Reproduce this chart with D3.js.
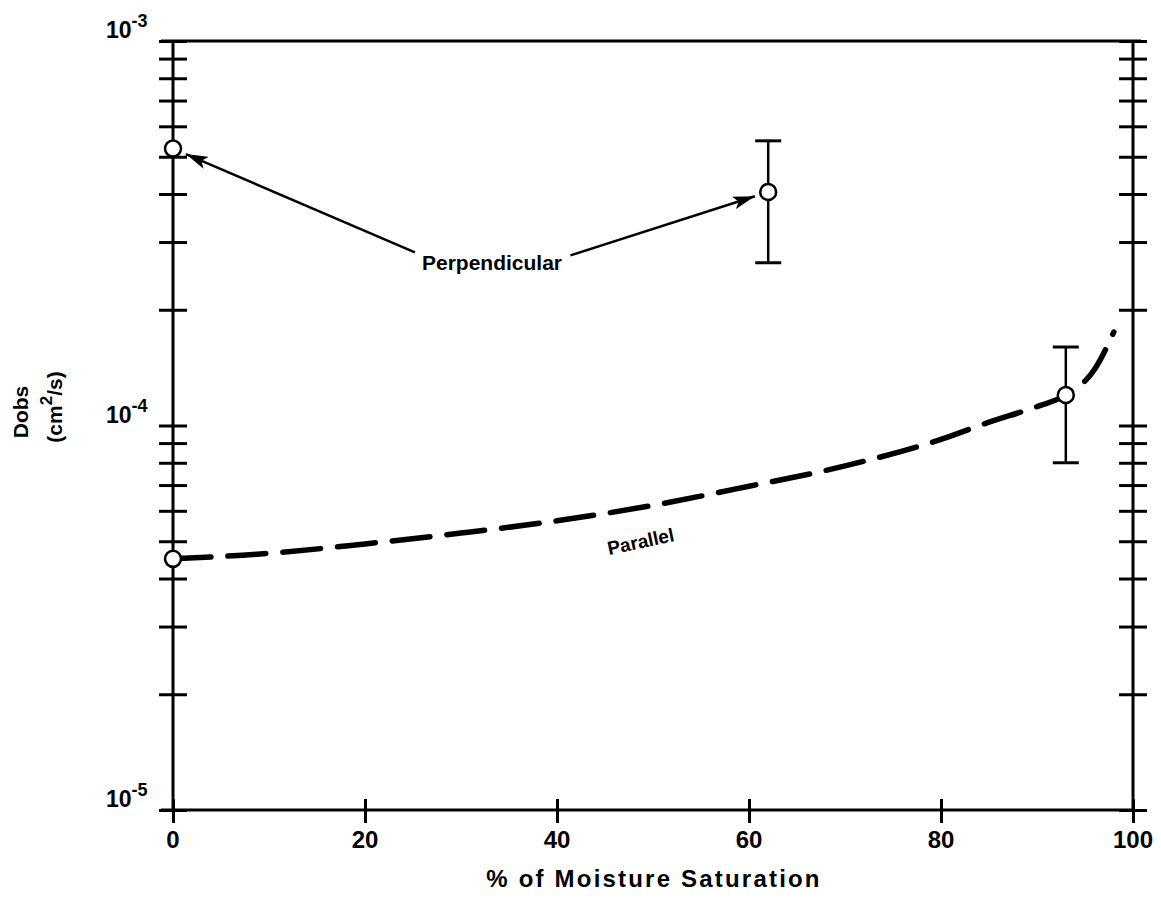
<!DOCTYPE html>
<html>
<head>
<meta charset="utf-8">
<script src="https://cdn.jsdelivr.net/npm/d3@7"></script>
<style>
  body { margin: 0; background: #fff; }
  text { font-family: "Liberation Sans", Arial, Helvetica, sans-serif; font-weight: bold; fill: #000; }
</style>
</head>
<body>
<div id="chart"></div>
<script>
const width = 1161, height = 905;

// measured points with error bars
const perpX = [0, 62];
const perpY = [5.25e-4, 4.05e-4];
const perpLo = [null, 2.65e-4];
const perpHi = [null, 5.5e-4];

const parX = [0, 93];
const parY = [4.5e-5, 1.2e-4];
const parLo = [null, 8.0e-5];
const parHi = [null, 1.6e-4];

// dashed "Parallel" trend curve
const curveX = [0, 10, 20, 30, 40, 50, 60, 70, 80, 85, 90, 93, 96, 98];
const curveY = [4.5e-5, 4.65e-5, 4.92e-5, 5.25e-5, 5.65e-5, 6.2e-5, 6.95e-5, 7.85e-5, 9.2e-5, 1.02e-4, 1.12e-4, 1.2e-4, 1.4e-4, 1.75e-4];

const xTicks = [0, 20, 40, 60, 80, 100];
const yMajor = [1e-5, 1e-4, 1e-3];
const yMajorExp = ["-5", "-4", "-3"];

// annotation arrow starts (data coords)
const arrowFromX = [25.2, 41.4];
const arrowFromY = [2.82e-4, 2.77e-4];

const x = d3.scaleLinear().domain([0, 100]).range([173, 1133]);
const y = d3.scaleLog().domain([1e-5, 1e-3]).range([810, 41]);

const svg = d3.select("#chart").append("svg")
  .attr("width", width)
  .attr("height", height);

svg.append("defs").append("marker")
  .attr("id", "arrow")
  .attr("viewBox", "0 0 22 13")
  .attr("refX", 22).attr("refY", 6.5)
  .attr("markerWidth", 22).attr("markerHeight", 13)
  .attr("markerUnits", "userSpaceOnUse")
  .attr("orient", "auto")
  .append("path")
  .attr("d", "M0,0 L22,6.5 L0,13 L5,6.5 Z")
  .attr("fill", "#000");

// minor + major log ticks
let yTicks = [];
[1e-5, 1e-4].forEach(dec => {
  for (let k = 1; k < 10; k++) yTicks.push(dec * k);
});
yTicks.push(1e-3);

const tickLen = 14;

function drawAxis(axis, tx, ty) {
  const g = svg.append("g")
    .attr("transform", `translate(${tx}, ${ty})`)
    .call(axis);
  g.select(".domain").remove();
  g.selectAll(".tick line").attr("stroke", "#000").attr("stroke-width", 3);
  g.selectAll(".tick text").remove();
  return g;
}

drawAxis(d3.axisLeft(y).tickValues(yTicks).tickSize(tickLen * 2).tickFormat(""), x(0) + tickLen, 0);
drawAxis(d3.axisLeft(y).tickValues(yTicks).tickSize(tickLen * 2).tickFormat(""), x(100) + tickLen, 0);
drawAxis(d3.axisBottom(x).tickValues(xTicks).tickSize(24).tickFormat(""), 0, y(1e-5) - 11);

// frame
svg.append("path")
  .attr("d", `M${x(0) - 12},${y(1e-3)} H${x(100) + 8} M${x(0)},${y(1e-3)} V${y(1e-5)} M${x(0) - 12},${y(1e-5)} H${x(100)} M${x(100)},${y(1e-3)} V${y(1e-5)}`)
  .attr("fill", "none")
  .attr("stroke", "#000")
  .attr("stroke-width", 3);

// x tick labels
svg.selectAll(".xlab").data(xTicks).enter().append("text")
  .attr("x", d => x(d))
  .attr("y", y(1e-5) + 38)
  .attr("text-anchor", "middle")
  .attr("font-size", 24)
  .text(d => d);

// y tick labels 10^n
yMajor.forEach((v, i) => {
  const t = svg.append("text")
    .attr("x", 106)
    .attr("y", y(v) - 3)
    .attr("font-size", 23);
  t.append("tspan").text("10");
  t.append("tspan").attr("dy", -11).attr("font-size", 18).text(yMajorExp[i]);
});

// axis titles
svg.append("text")
  .attr("x", 654).attr("y", 887)
  .attr("text-anchor", "middle")
  .attr("font-size", 24)
  .attr("letter-spacing", 2.2)
  .text("% of Moisture Saturation");

svg.append("text")
  .attr("transform", "translate(28, 412) rotate(-90)")
  .attr("text-anchor", "middle")
  .attr("font-size", 21)
  .text("Dobs");

const yt = svg.append("text")
  .attr("transform", "translate(62, 407) rotate(-90)")
  .attr("text-anchor", "middle")
  .attr("font-size", 21);
yt.append("tspan").text("(cm");
yt.append("tspan").attr("dy", -10).attr("font-size", 17).text("2");
yt.append("tspan").attr("dy", 10).text("/s)");

// dashed parallel curve
const line = d3.line()
  .x(d => x(d[0]))
  .y(d => y(d[1]))
  .curve(d3.curveMonotoneX);

svg.append("path")
  .datum(d3.zip(curveX, curveY))
  .attr("d", line)
  .attr("fill", "none")
  .attr("stroke", "#000")
  .attr("stroke-width", 5.5)
  .attr("stroke-linecap", "round")
  .attr("stroke-dasharray", "38 17");

// error bars
function drawPoints(xs, ys, lo, hi) {
  xs.forEach((xv, i) => {
    if (lo[i] != null) {
      svg.append("line")
        .attr("x1", x(xv)).attr("x2", x(xv))
        .attr("y1", y(hi[i])).attr("y2", y(lo[i]))
        .attr("stroke", "#000").attr("stroke-width", 2.5);
      [lo[i], hi[i]].forEach(v => {
        svg.append("line")
          .attr("x1", x(xv) - 13).attr("x2", x(xv) + 13)
          .attr("y1", y(v)).attr("y2", y(v))
          .attr("stroke", "#000").attr("stroke-width", 3);
      });
    }
  });
  svg.selectAll(null).data(d3.zip(xs, ys)).enter().append("circle")
    .attr("cx", d => x(d[0]))
    .attr("cy", d => y(d[1]))
    .attr("r", 8)
    .attr("fill", "#fff")
    .attr("stroke", "#000")
    .attr("stroke-width", 2.5);
}
drawPoints(perpX, perpY, perpLo, perpHi);
drawPoints(parX, parY, parLo, parHi);

// annotation arrows toward perpendicular points
arrowFromX.forEach((ax, i) => {
  const x0 = x(ax), y0 = y(arrowFromY[i]);
  const px = x(perpX[i]), py = y(perpY[i]);
  const dx = px - x0, dy = py - y0;
  const len = Math.hypot(dx, dy);
  const off = 14;
  svg.append("line")
    .attr("x1", x0).attr("y1", y0)
    .attr("x2", px - dx / len * off).attr("y2", py - dy / len * off)
    .attr("stroke", "#000").attr("stroke-width", 2.5)
    .attr("marker-end", "url(#arrow)");
});

svg.append("text")
  .attr("x", 492).attr("y", 270)
  .attr("text-anchor", "middle")
  .attr("font-size", 21)
  .text("Perpendicular");

svg.append("text")
  .attr("transform", "translate(642, 548) rotate(-12)")
  .attr("text-anchor", "middle")
  .attr("font-size", 19)
  .text("Parallel");
</script>
</body>
</html>
